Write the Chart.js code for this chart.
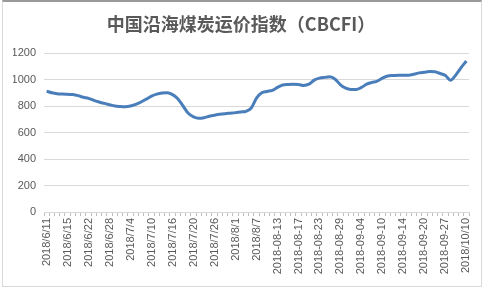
<!DOCTYPE html>
<html><head><meta charset="utf-8">
<script src="https://cdn.jsdelivr.net/npm/chart.js@4"></script>
<style>
html,body{margin:0;padding:0;background:#fff;}
#wrap{position:relative;width:485px;height:289px;}
#frame{position:absolute;left:2px;top:0;width:480px;height:287px;border:1px solid #d9d9d9;border-top:2px solid #9a9a9a;box-sizing:border-box;pointer-events:none;}
canvas{display:block;}
</style></head>
<body>
<div id="wrap"><canvas id="c" width="485" height="289"></canvas><div id="frame"></div></div>
<script>
const title = "中国沿海煤炭运价指数（CBCFI）";
const categories = [
"2018/6/11","2018/6/12","2018/6/13","2018/6/14","2018/6/15","2018/6/19","2018/6/20","2018/6/21","2018/6/22",
"2018/6/25","2018/6/26","2018/6/27","2018/6/28","2018/6/29","2018/7/2","2018/7/3","2018/7/4",
"2018/7/5","2018/7/6","2018/7/9","2018/7/10","2018/7/11","2018/7/12","2018/7/13","2018/7/16",
"2018/7/17","2018/7/18","2018/7/19","2018/7/20","2018/7/23","2018/7/24","2018/7/25","2018/7/26",
"2018/7/27","2018/7/30","2018/7/31","2018/8/1","2018/8/2","2018/8/3","2018/8/6","2018/8/7",
"2018-08-08","2018-08-09","2018-08-10","2018-08-13","2018-08-14","2018-08-15","2018-08-16","2018-08-17",
"2018-08-20","2018-08-21","2018-08-22","2018-08-23","2018-08-24","2018-08-27","2018-08-28","2018-08-29",
"2018-08-30","2018-08-31","2018-09-03","2018-09-04","2018-09-05","2018-09-06","2018-09-07","2018-09-10",
"2018-09-11","2018-09-12","2018-09-13","2018-09-14","2018-09-17","2018-09-18","2018-09-19","2018-09-20",
"2018-09-21","2018-09-25","2018-09-26","2018-09-27","2018-09-28","2018/10/8","2018/10/9","2018/10/10"
];
const cbcfi = [
912,900,893,890,888,886,878,866,858,842,830,820,810,800,796,794,800,812,830,852,875,890,898,900,886,
855,800,745,718,708,712,722,730,737,742,746,750,755,760,785,860,900,910,918,940,958,962,964,962,955,
965,995,1010,1016,1020,1002,960,935,925,924,940,965,978,988,1010,1026,1030,1032,1033,1033,1040,1050,
1055,1060,1058,1045,1030,995,1035,1090,1140
];
const yTicks = [0,200,400,600,800,1000,1200];
const labelEvery = 4;

new Chart(document.getElementById('c'), {
  type: 'line',
  data: { labels: categories, datasets: [{
    data: cbcfi, borderColor: '#4a7ebb', borderWidth: 3, pointRadius: 0,
    tension: 0.4, fill: false, cubicInterpolationMode: 'monotone'
  }]},
  options: {
    responsive: false, animation: false,
    layout: { padding: { left: 13, right: 16, top: 0, bottom: 0 } },
    plugins: {
      legend: { display: false }, tooltip: { enabled: false },
      title: { display: true, text: title, color: '#595959',
        font: { family: "'Noto Sans CJK SC', 'Noto Sans', sans-serif", size: 18, weight: 'bold' },
        padding: { top: 13, bottom: 18.4 } }
    },
    scales: {
      x: {
        offset: true,
        grid: { display: true, drawOnChartArea: false, offset: true, color: '#bfbfbf', tickLength: 4 },
        border: { color: '#d9d9d9' },
        ticks: { autoSkip: false, maxRotation: 90, minRotation: 90, color: '#595959', padding: 2,
          font: { family: "'Liberation Sans', Arial, sans-serif", size: 11 },
          callback: function(v, i) { return i % labelEvery === 0 ? categories[i] : ''; } },
        afterFit: function(s) { s.height = 77; }
      },
      y: {
        min: 0, max: 1200,
        afterBuildTicks: function(s) { s.ticks = yTicks.map(v => ({ value: v })); },
        grid: { color: '#d9d9d9', drawTicks: false },
        border: { display: false },
        ticks: { color: '#595959', padding: 8, font: { family: "'Liberation Sans', Arial, sans-serif", size: 11 },
          callback: function(v) { return String(v); } },
        afterFit: function(s) { s.width = 31; }
      }
    }
  }
});
</script>
</body></html>
